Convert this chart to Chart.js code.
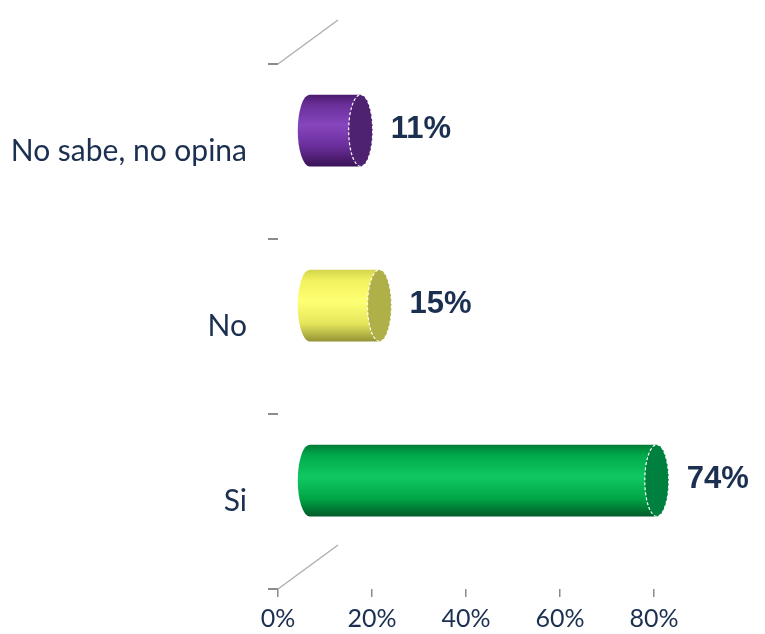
<!DOCTYPE html>
<html><head><meta charset="utf-8">
<script src="https://cdn.jsdelivr.net/npm/chart.js@4/dist/chart.umd.min.js"></script>
<style>html,body{margin:0;padding:0;background:#fff}#wrap{width:765px;height:634px;position:relative}</style>
</head><body><div id="wrap"><canvas id="c" width="765" height="634"></canvas></div>
<script>
// ---- data ----
const categories = ['No sabe, no opina', 'No', 'Si'];
const values = [11, 15, 74];
const valueLabels = ['11%', '15%', '74%'];
const tickValues = [0, 20, 40, 60, 80];

// ---- styles ----
const bodyStops = [
  [[0,'#4a1c6e'],[0.14,'#6a2e98'],[0.42,'#8646be'],[0.72,'#6a2e9a'],[1,'#3a1256']],
  [[0,'#d4d44e'],[0.15,'#f2f25e'],[0.45,'#ffff74'],[0.75,'#e6e65c'],[1,'#949436']],
  [[0,'#007a36'],[0.15,'#00aa4a'],[0.45,'#10c862'],[0.75,'#00a646'],[1,'#005c28']]
];
const capColors = ['#4e2270', '#b0b048', '#00803e'];
const textColor = '#1b2f50';
const DX = 31, DY = -21, RX = 12;

function drawCyl(ctx, x0, x1, yc, h, stops, cap) {
  const ry = h / 2, top = yc - ry;
  const g = ctx.createLinearGradient(0, top, 0, top + h);
  stops.forEach(s => g.addColorStop(s[0], s[1]));
  ctx.save();
  ctx.beginPath();
  ctx.moveTo(x1, top);
  ctx.lineTo(x0, top);
  ctx.ellipse(x0, yc, RX, ry, 0, -Math.PI / 2, Math.PI / 2, true);
  ctx.lineTo(x1, top + h);
  ctx.closePath();
  ctx.fillStyle = g;
  ctx.fill();
  ctx.beginPath();
  ctx.ellipse(x1, yc, RX, ry, 0, 0, Math.PI * 2);
  ctx.fillStyle = cap;
  ctx.fill();
  ctx.setLineDash([3, 2]);
  ctx.strokeStyle = '#ffffff';
  ctx.lineWidth = 1.2;
  ctx.stroke();
  ctx.restore();
}

const cylPlugin = {
  id: 'cyl',
  beforeDatasetsDraw(chart) {
    const { ctx, chartArea: a } = chart;
    ctx.save();
    ctx.strokeStyle = '#b0b0b0';
    ctx.lineWidth = 1.5;
    ctx.beginPath();
    ctx.moveTo(a.left, a.top); ctx.lineTo(a.left + 2 * DX - 2, a.top + 2 * DY - 2);
    ctx.moveTo(a.left, a.bottom); ctx.lineTo(a.left + 2 * DX - 2, a.bottom + 2 * DY - 2);
    ctx.stroke();
    ctx.restore();
  },
  afterDatasetsDraw(chart) {
    const { ctx } = chart;
    const meta = chart.getDatasetMeta(0);
    meta.data.forEach((bar, i) => {
      const p = bar.getProps(['x', 'y', 'base', 'height'], true);
      const yc = p.y + DY;
      drawCyl(ctx, p.base + DX, p.x + DX, yc, p.height, bodyStops[i], capColors[i]);
      ctx.save();
      ctx.fillStyle = textColor;
      ctx.font = 'bold 31px "Liberation Sans", Arial, sans-serif';
      ctx.textBaseline = 'middle';
      ctx.textAlign = 'left';
      ctx.fillText(valueLabels[i], p.x + DX + RX + 18, yc - 1);
      ctx.restore();
    });
  }
};

new Chart(document.getElementById('c'), {
  type: 'bar',
  data: {
    labels: categories,
    datasets: [{
      data: values,
      backgroundColor: 'rgba(0,0,0,0)',
      borderWidth: 0,
      categoryPercentage: 1,
      barPercentage: 0.41
    }]
  },
  options: {
    indexAxis: 'y',
    responsive: false,
    animation: false,
    devicePixelRatio: 1,
    events: [],
    layout: { padding: { top: 64, right: 111, bottom: 0, left: 0 } },
    plugins: { legend: { display: false }, tooltip: { enabled: false } },
    scales: {
      x: {
        min: 0, max: 80,
        afterBuildTicks: s => { s.ticks = tickValues.map(v => ({ value: v })); },
        ticks: { callback: v => v + '%', color: textColor, font: { family: 'Lato', size: 25 }, padding: 7, maxRotation: 0 },
        grid: { drawOnChartArea: false, drawTicks: true, tickLength: 8, color: '#8c8c8c', lineWidth: 1.5 },
        border: { display: false },
        afterFit: s => { s.height = 45; }
      },
      y: {
        ticks: { color: textColor, font: { family: 'Lato', size: 30 }, padding: 21 },
        grid: { offset: true, drawOnChartArea: false, tickLength: 10, color: '#8c8c8c', lineWidth: 2 },
        border: { display: false },
        afterFit: s => { s.width = 278; }
      }
    }
  },
  plugins: [cylPlugin]
});
</script>
</body></html>
